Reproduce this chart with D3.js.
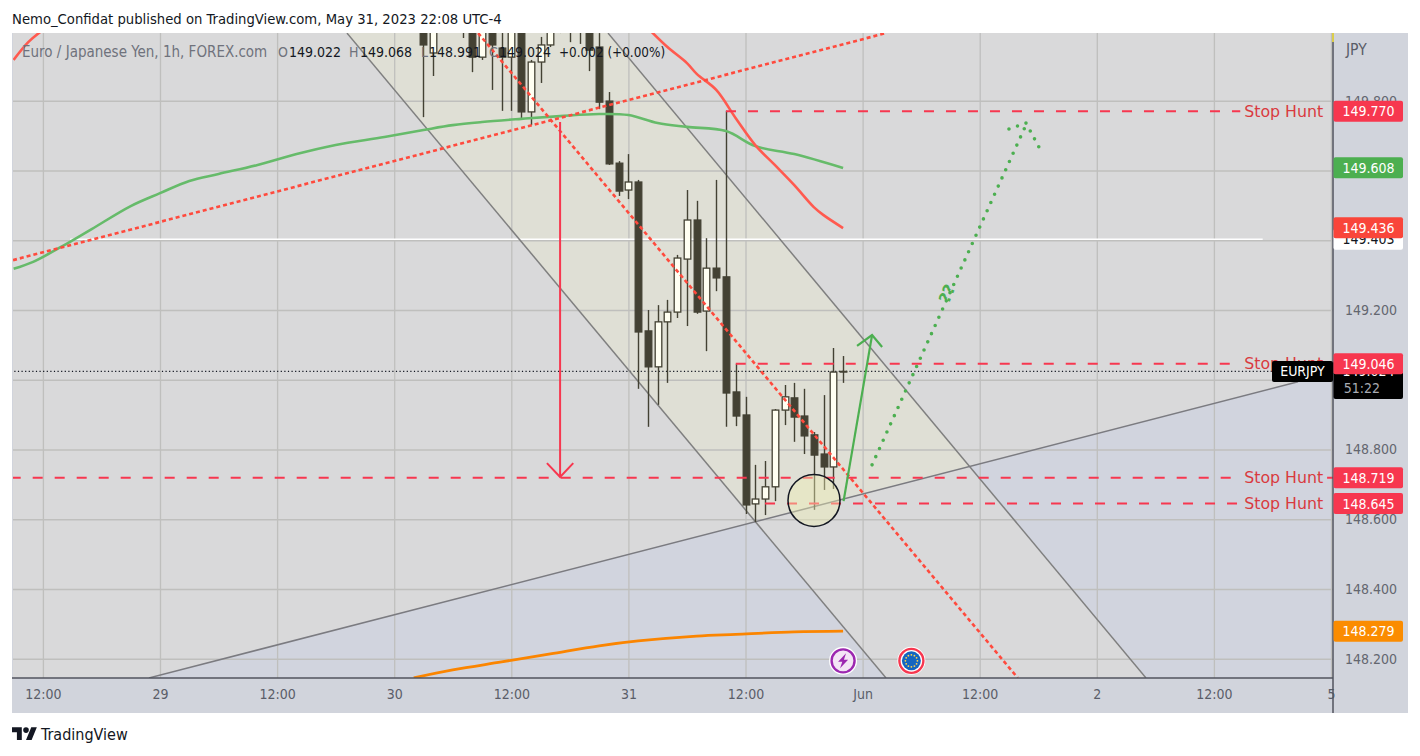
<!DOCTYPE html>
<html><head><meta charset="utf-8">
<script src="https://cdnjs.cloudflare.com/ajax/libs/d3/7.8.5/d3.min.js"></script>
<style>
html,body{margin:0;padding:0;background:#fff;overflow:hidden}
svg{display:block}
text{font-family:'DejaVu Sans',sans-serif;font-stretch:condensed}
</style></head><body><div id="c"></div>
<script>
// ---- data (hour index from 29 May 00:00, price in JPY) ----
const timeTickHours=[-12,0,12,24,36,48,60,72,84,96,108,120];
const timeTickLabels=["12:00","29","12:00","30","12:00","31","12:00","Jun","12:00","2","12:00","5"];
const priceTicks=[149.8,149.6,149.4,149.2,149.0,148.8,148.6,148.4,148.2];
const candleHours=[27,28,31,32,33,34,35,36,37,38,39,40,41,42,43,44,45,46,47,48,49,50,51,52,53,54,55,56,57,58,59,60,61,62,63,64,65,66,67,68,69,70];
const opens =[150.017,149.937,150.03,150.017,149.925,150.017,149.951,149.925,150.017,149.768,149.911,149.960,150.05,150.05,150.05,150.017,149.954,149.799,149.621,149.544,149.567,149.140,149.037,149.166,149.194,149.346,149.458,149.197,149.320,149.295,148.965,148.899,148.644,148.658,148.693,148.913,148.948,148.896,148.842,148.787,148.750,149.022];
const closes=[149.960,150.017,150.01,149.925,150.017,149.960,149.925,150.017,149.768,149.911,149.960,150.017,150.02,150.02,150.02,149.945,149.796,149.619,149.541,149.567,149.137,149.037,149.166,149.194,149.349,149.458,149.194,149.320,149.292,148.962,148.896,148.641,148.658,148.693,148.913,148.951,148.893,148.839,148.784,148.750,149.022,149.024];
const highs =[150.03,150.03,150.04,150.03,150.03,150.03,150.02,150.03,150.03,149.917,149.983,150.03,150.06,150.06,150.06,150.03,149.994,149.825,149.627,149.647,149.573,149.200,149.214,149.229,149.358,149.544,149.513,149.406,149.573,149.771,149.045,148.951,148.756,148.767,148.916,148.985,148.991,148.974,148.850,148.956,149.091,149.068];
const lows  =[149.753,149.871,149.980,149.882,149.917,149.831,149.771,149.771,149.750,149.730,149.851,149.954,149.994,149.968,149.963,149.885,149.776,149.616,149.527,149.518,148.974,148.865,148.928,148.991,149.177,149.154,149.189,149.082,149.254,148.865,148.867,148.615,148.592,148.612,148.652,148.870,148.822,148.787,148.627,148.684,148.687,148.991];
const greenMAHours=[-15,-13,-10,-7,-3,0,3,6,10,14,18,23,27,30,33,37,41,45,48,51,54,58,61,65,70];
const greenMA=[149.318,149.338,149.383,149.432,149.498,149.535,149.570,149.590,149.616,149.647,149.673,149.696,149.716,149.730,149.739,149.748,149.756,149.762,149.759,149.736,149.725,149.713,149.670,149.647,149.607];
const redMALeftHours=[-15,-13.5,-12];
const redMALeft=[149.917,149.968,150.003];
const redMAHours=[50,52,54,55,57,59,61,63,65,67,68,70];
const redMA=[150.008,149.954,149.908,149.877,149.831,149.750,149.673,149.616,149.558,149.495,149.472,149.435];
const orangeMAHours=[26,30,35,40,45,49,55,59,65,70];
const orangeMA=[148.145,148.168,148.191,148.214,148.237,148.251,148.265,148.270,148.277,148.279];
const channelLowerLine=[[19.16,149.994],[74.4,148.145]];
const channelUpperLine=[[45.91,149.994],[101.04,148.145]];
const risingLine=[[-1.13,148.145],[116.62,148.994]];
const fallingDotted=[[32.6,149.994],[87.9,148.145]];
const risingDotted=[[-15.06,149.343],[74.4,149.994]];
const blueZone=[[-1.13,148.145],[120,148.145],[120,149.019]];
const channelAbove=[[19.16,149.994],[45.91,149.994],[82.97,148.751],[61.0,148.593]];
const channelBelow=[[61.0,148.593],[82.97,148.751],[101.04,148.145],[74.4,148.145]];
const redArrowShaft=[[41,149.739],[41,148.721]];
const redArrowHead=[[39.65,148.761],[41,148.721],[42.35,148.761]];
const greenArrowShaft=[[70.05,148.652],[72.97,149.128]];
const greenArrowHead=[[71.43,149.097],[72.97,149.128],[74,149.094]];
const dottedShaft=[[72.97,148.756],[88.65,149.725]];
const dottedHead=[[87,149.719],[88.75,149.736],[90.3,149.655]];
const stopPrices=[149.770,149.046,148.719,148.645];
const stopStartHours=[58,59,-15.3,62];
const stopEndHour=110.7;
const tailSegment=[119.6,120.3];
const stopLabelHour=119.2;
const circleCenter=[67.02,148.654];
const questionAnchor=[80.75,149.246];
const eventHours=[70,77];
const eventPrice=148.194;
const whiteLinePrice=149.403, whiteLineStart=-9.2, whiteLineEnd=113, lastPrice=149.024;
const priceTags=[["149.403",149.403,"#ffffff","#131722"],["149.770",149.770,"#f7374f","#fff"],["149.608",149.608,"#4caf50","#fff"],["149.436",149.436,"#f9453a","#fff"],["148.719",148.719,"#f7374f","#fff"],["148.645",148.645,"#f7374f","#fff"],["148.279",148.279,"#fb8c00","#fff"]];

// ---- layout ----
const W=1420,H=756,L=13,R=1333,T=33,B=678,PR=1408,PB=713,PL=12;
const x=d3.scaleLinear().domain([0,120]).range([160,1331]);
const y=d3.scaleLinear().domain([149.2,148.4]).range([310,589]);
const svg=d3.select("#c").append("svg").attr("width",W).attr("height",H);
const line=d3.line().x(d=>x(d[0])).y(d=>y(d[1]));
const zip=(a,b)=>a.map((v,i)=>[v,b[i]]);

svg.append("defs").append("clipPath").attr("id","plot").append("rect").attr("x",L).attr("y",T).attr("width",R-L).attr("height",B-T);
svg.append("text").attr("x",12).attr("y",24).attr("font-size",14.7).attr("fill","#131722").text("Nemo_Confidat published on TradingView.com, May 31, 2023 22:08 UTC-4");
svg.append("rect").attr("x",PL).attr("y",T).attr("width",PR-PL).attr("height",PB-T).attr("fill","#d1d4dc");
svg.append("rect").attr("x",L).attr("y",T).attr("width",R-L).attr("height",B-T).attr("fill","#d9d9da");

const plot=svg.append("g").attr("clip-path","url(#plot)");
const poly=(pts,fill)=>plot.append("path").attr("d",line(pts)+"Z").attr("fill",fill);
poly(blueZone,"#d1d4de");
poly(channelBelow,"#d9d9da");
poly(channelAbove,"#dfdfd5");

// axes and grid
const yAxis=svg.append("g").attr("transform",`translate(${R},0)`).call(d3.axisRight(y).tickValues(priceTicks).tickSize(-(R-L)).tickPadding(12).tickFormat(d3.format(".3f")));
const xAxis=svg.append("g").attr("transform",`translate(0,${B})`).call(d3.axisBottom(x).tickValues(timeTickHours).tickSize(-(B-T)).tickPadding(11).tickFormat((d,i)=>timeTickLabels[i]));
[yAxis,xAxis].forEach(a=>{a.select(".domain").remove();
 a.selectAll("line").attr("stroke","#bfbfbd").attr("stroke-width",1.3);
 a.selectAll("text").attr("fill","#63666f").attr("font-size",14).style("font-family","'DejaVu Sans'").style("font-stretch","condensed");});
xAxis.selectAll("text").attr("fill","#5a5d68");

const marks=svg.append("g").attr("clip-path","url(#plot)");
const seg=(pts,col,w,dash)=>{const p=marks.append("path").attr("d",line(pts)).attr("fill","none").attr("stroke",col).attr("stroke-width",w);
 if(dash)p.attr("stroke-dasharray",dash);return p;};
const curve=d3.line().x(d=>x(d[0])).y(d=>y(d[1])).curve(d3.curveCatmullRom);
const ma=(hs,vs,col,w)=>marks.append("path").attr("d",curve(zip(hs,vs))).attr("fill","none").attr("stroke",col).attr("stroke-width",w);

seg([[whiteLineStart,whiteLinePrice],[whiteLineEnd,whiteLinePrice]],"#ffffff",1.6);
seg([[-15.3,lastPrice],[120.3,lastPrice]],"#131722",1.2,"1.2 2.4");
seg(channelLowerLine,"#7f7f7f",1.5);
seg(channelUpperLine,"#7f7f7f",1.5);
seg(risingLine,"#7b7b80",1.5);

// candles
const bw=6.6;
candleHours.forEach((h,i)=>{
 const up=closes[i]>=opens[i];const px=Math.round(x(h))+.5;
 marks.append("line").attr("x1",px).attr("x2",px).attr("y1",y(highs[i])).attr("y2",y(lows[i])).attr("stroke","#434133").attr("stroke-width",1.4);
 const t=y(Math.max(opens[i],closes[i])),b=y(Math.min(opens[i],closes[i]));
 marks.append("rect").attr("x",px-bw/2).attr("y",t).attr("width",bw).attr("height",Math.max(b-t,.6)).attr("fill",up&&b-t>2?"#fffff2":"#434133").attr("stroke","#434133").attr("stroke-width",1.3);
});

ma(greenMAHours,greenMA,"#66bb6a",2.6);
ma(redMALeftHours,redMALeft,"#ff5a4f",2.6);
ma(redMAHours,redMA,"#ff5a4f",2.6);
ma(orangeMAHours,orangeMA,"#fb8500",2.8);

seg(risingDotted,"#ff4a3d",2.6,"4 3");
seg(fallingDotted,"#ff4a3d",2.6,"4 3");

// stop hunt lines
stopPrices.forEach((p,i)=>seg([[stopStartHours[i],p],[stopEndHour,p]],"#f7374f",2,"10 12"));
seg([[tailSegment[0],148.719],[tailSegment[1],148.719]],"#f7374f",2);
seg(redArrowShaft,"#f7374f",2);
seg(redArrowHead,"#f7374f",2);
marks.append("circle").attr("cx",x(circleCenter[0])).attr("cy",y(circleCenter[1])).attr("r",26).attr("fill","rgba(240,240,180,.42)").attr("stroke","#131722").attr("stroke-width",1.5);
seg(greenArrowShaft,"#4caf50",2.2);
seg(greenArrowHead,"#4caf50",2.2);
seg(dottedShaft,"#4caf50",3.6,"0 9").attr("stroke-linecap","round");
seg(dottedHead,"#4caf50",3.6,"0 9").attr("stroke-linecap","round");
marks.append("text").attr("transform",`translate(${x(questionAnchor[0])},${y(questionAnchor[1])}) rotate(-68)`).attr("text-anchor","middle").attr("dominant-baseline","middle").attr("font-size",16).attr("font-weight","bold").attr("fill","#4caf50").style("font-stretch","normal").text("??");

// events
const ey=y(eventPrice);
const e1=marks.append("g").attr("transform",`translate(${x(eventHours[0])},${ey})`);
e1.append("circle").attr("r",14).attr("fill","#fff");
e1.append("circle").attr("r",11.5).attr("fill","#f3e5f5").attr("stroke","#9c27b0").attr("stroke-width",2.4);
e1.append("path").attr("d","M3,-7.5 L-5,1 L-0.8,1 L-3,7.5 L5,-1 L0.8,-1 Z").attr("fill","#9c27b0");
const e2=marks.append("g").attr("transform",`translate(${x(eventHours[1])},${ey})`);
e2.append("circle").attr("r",14).attr("fill","#fff");
e2.append("circle").attr("r",12).attr("fill","#fff").attr("stroke","#f7374f").attr("stroke-width",2.4);
e2.append("circle").attr("r",9.5).attr("fill","#1565c0");
d3.range(12).forEach(k=>{const a=k*Math.PI/6;e2.append("circle").attr("cx",6*Math.cos(a)).attr("cy",6*Math.sin(a)).attr("r",.9).attr("fill","#ffd54f");});

// stop hunt text
stopPrices.forEach(p=>marks.append("text").attr("x",x(stopLabelHour)).attr("y",y(p)+5.5).attr("text-anchor","end").attr("font-size",15.8).attr("fill","#d93a3f").style("font-stretch","normal").text("Stop Hunt"));

// legend
const leg=svg.append("g").attr("font-size",14);
const legendTexts=[[22,"Euro / Japanese Yen, 1h, FOREX.com","#6f727c",15],[278,"O","#6f727c",14],[289,"149.022","#131722",14],[349,"H","#6f727c",14],[360,"149.068","#131722",14],[421,"L","#6f727c",14],[429,"148.991","#131722",14],[489,"C","#6f727c",14],[499,"149.024","#131722",14],[559,"+0.002 (+0.00%)","#131722",13.4]];
legendTexts.forEach(t=>leg.append("text").attr("x",t[0]).attr("y",57).attr("fill",t[2]).attr("font-size",t[3]).text(t[1]));

// axis lines
svg.append("line").attr("x1",R).attr("x2",R).attr("y1",T).attr("y2",PB).attr("stroke","#50535e").attr("stroke-width",1.5);
svg.append("line").attr("x1",PL).attr("x2",R).attr("y1",B).attr("y2",B).attr("stroke","#50535e").attr("stroke-width",1.5);
svg.append("line").attr("x1",R).attr("x2",R).attr("y1",T).attr("y2",42).attr("stroke","#ffeb3b").attr("stroke-width",1.5);
svg.append("text").attr("x",1346).attr("y",55).attr("font-size",15.5).attr("fill","#5a5d68").text("JPY");

// price tags
const tag=(txt,p,bg,fg)=>{const c=y(p);
 svg.append("rect").attr("x",R+.5).attr("y",c-10.5).attr("width",69.5).attr("height",21).attr("rx",2).attr("fill",bg);
 svg.append("text").attr("x",1368.5).attr("y",c+5).attr("text-anchor","middle").attr("font-size",14).attr("fill",fg).text(txt);};
priceTags.forEach(t=>tag(t[0],t[1],t[2],t[3]));
// last price tag with countdown
const ly=y(lastPrice);
svg.append("rect").attr("x",R+.5).attr("y",ly-10.5).attr("width",69.5).attr("height",38).attr("rx",2).attr("fill","#000");
svg.append("text").attr("x",1368.5).attr("y",ly+5).attr("text-anchor","middle").attr("font-size",14).attr("fill","#fff").text("149.024");
svg.append("text").attr("x",1362).attr("y",ly+21.5).attr("text-anchor","middle").attr("font-size",14).attr("fill","#a8abb3").text("51:22");
tag("149.046",149.046,"#f7374f","#fff");
svg.append("rect").attr("x",1272).attr("y",ly-10.5).attr("width",61).attr("height",21).attr("rx",2).attr("fill","#000");
svg.append("text").attr("x",1302.5).attr("y",ly+5).attr("text-anchor","middle").attr("font-size",14).attr("fill","#fff").text("EURJPY");

// footer
const logo=svg.append("g").attr("transform","translate(12,724.5) scale(.7)").attr("fill","#131722");
logo.append("path").attr("d","M14 22H7V11H0V4h14v18zM28 22h-8l7.5-18h8L28 22z");
logo.append("circle").attr("cx",20).attr("cy",8).attr("r",4);
svg.append("text").attr("x",41).attr("y",740).attr("font-size",16).attr("fill","#131722").text("TradingView");
</script></body></html>
